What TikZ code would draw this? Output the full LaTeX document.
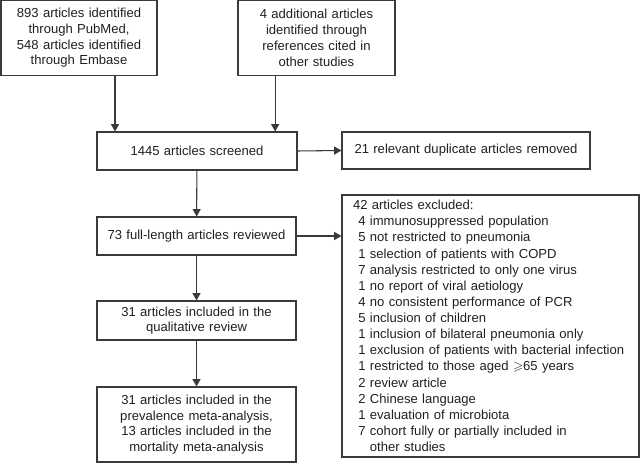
\documentclass[tikz,border=0pt]{standalone}
\usepackage{fontspec}
\setmainfont{Liberation Sans}
\usepackage{amssymb}
\usetikzlibrary{arrows.meta}

\definecolor{linegray}{HTML}{3A3A3A}
\definecolor{textgray}{HTML}{202020}

\tikzset{
    box/.style={draw=linegray, line width=0.8pt, align=center, inner xsep=0pt,
        inner ysep=2pt, text=textgray, font=\fontsize{9.8}{11.8}\selectfont},
    arr/.style={draw=linegray, line width=0.8pt, -{Triangle[length=5.5pt,width=6pt]}},
}

\begin{document}
\begin{tikzpicture}[x=0.75pt,y=-0.75pt]
    \useasboundingbox (0,0) rectangle (640,463);

    % Quellen
    \node[box, text width=117pt, minimum height=56.25pt] (src1) at (79,37.9)
        {893 articles identified\\ through PubMed,\\ 548 articles identified\\ through Embase};
    \node[box, text width=117.75pt, minimum height=56.25pt] (src2) at (316.5,37.9)
        {4 additional articles\\ identified through\\ references cited in\\ other studies};

    % Hauptstrang
    \node[box, text width=150pt, minimum height=28.5pt] (screen) at (197,151) {1445 articles screened};
    \node[box, text width=186pt, minimum height=27.75pt] (dup) at (466,150.5) {21 relevant duplicate articles removed};
    \node[box, text width=149.25pt, minimum height=28.5pt] (full) at (196.5,236) {73 full-length articles reviewed};
    \node[box, text width=149.25pt, minimum height=29.25pt] (qual) at (196.5,320.5)
        {31 articles included in the\\ qualitative review};
    \node[box, text width=149.25pt, minimum height=56.25pt] (meta) at (196.5,424.5)
        {31 articles included in the\\ prevalence meta-analysis,\\ 13 articles included in the\\ mortality meta-analysis};

    % Ausschluesse
    \node[box, align=left, inner xsep=8.25pt, inner ysep=0pt, text width=206.25pt,
        minimum height=196.5pt, font=\fontsize{9.8}{12.1}\selectfont] (excl) at (490.5,326)
        {42 articles excluded:\\
        \hspace*{4pt}4 immunosuppressed population\\
        \hspace*{4pt}5 not restricted to pneumonia\\
        \hspace*{4pt}1 selection of patients with COPD\\
        \hspace*{4pt}7 analysis restricted to only one virus\\
        \hspace*{4pt}1 no report of viral aetiology\\
        \hspace*{4pt}4 no consistent performance of PCR\\
        \hspace*{4pt}5 inclusion of children\\
        \hspace*{4pt}1 inclusion of bilateral pneumonia only\\
        \hspace*{4pt}1 exclusion of patients with bacterial infection\\
        \hspace*{4pt}1 restricted to those aged $\geqslant$65 years\\
        \hspace*{4pt}2 review article\\
        \hspace*{4pt}2 Chinese language\\
        \hspace*{4pt}1 evaluation of microbiota\\
        \hspace*{4pt}7 cohort fully or partially included in\\
        \hspace*{4pt}\phantom{7 }other studies};

    % Pfeile
    \draw[arr] ([xshift=27pt]src1.south) coordinate (a1) -- (a1 |- screen.north);
    \draw[arr] ([xshift=-31pt]src2.south) coordinate (a2) -- (a2 |- screen.north);
    \draw[arr] (screen.east) -- (dup.west);
    \draw[arr] (screen) -- (full);
    \draw[arr] (full.east) -- (full.east -| excl.west);
    \draw[arr] (full) -- (qual);
    \draw[arr] (qual) -- (meta);
\end{tikzpicture}
\end{document}
